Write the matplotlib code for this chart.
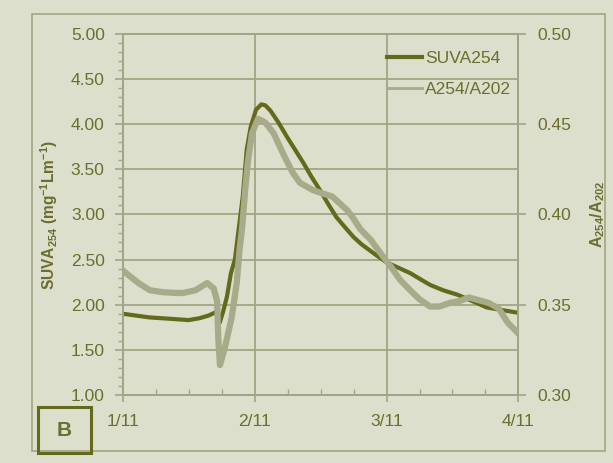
import matplotlib
matplotlib.use("Agg")
import matplotlib.pyplot as plt
from matplotlib.patches import Rectangle
from matplotlib.ticker import MultipleLocator

plt.rcParams['font.family'] = ['Liberation Sans', 'DejaVu Sans']
plt.rcParams['mathtext.default'] = 'regular'

# ---- data (days since 1/11) ----
suva_t = [0.00, 0.10, 0.20, 0.30, 0.40, 0.50, 0.58, 0.65, 0.71, 0.735, 0.76, 0.79,
          0.82, 0.85, 0.88, 0.91, 0.94, 0.97, 1.01, 1.05, 1.08, 1.12, 1.18, 1.245,
          1.31, 1.37, 1.43, 1.495, 1.56, 1.62, 1.69, 1.75, 1.81, 1.875, 1.94, 2.00,
          2.09, 2.18, 2.26, 2.33, 2.43, 2.54, 2.62, 2.76, 2.88, 3.00]
suva_v = [1.90, 1.88, 1.86, 1.85, 1.84, 1.83, 1.85, 1.88, 1.92, 1.80, 1.92, 2.09,
          2.35, 2.50, 2.85, 3.20, 3.72, 3.97, 4.16, 4.22, 4.21, 4.15, 4.02, 3.86,
          3.71, 3.57, 3.42, 3.27, 3.11, 2.97, 2.85, 2.75, 2.67, 2.60, 2.53, 2.47,
          2.41, 2.35, 2.28, 2.22, 2.16, 2.11, 2.06, 1.97, 1.94, 1.91]

ratio_t = [0.00, 0.05, 0.12, 0.206, 0.30, 0.40, 0.457, 0.55, 0.64, 0.69, 0.715, 0.725,
           0.737, 0.775, 0.826, 0.864, 0.885, 0.904, 0.93, 0.95, 0.98, 1.025, 1.08,
           1.144, 1.22, 1.29, 1.344, 1.44, 1.50, 1.587, 1.70, 1.738, 1.80, 1.88, 1.95,
           2.034, 2.10, 2.18, 2.25, 2.33, 2.40, 2.48, 2.55, 2.626, 2.70, 2.775, 2.85,
           2.92, 2.96, 3.00]
ratio_v = [0.369, 0.366, 0.362, 0.358, 0.357, 0.3565, 0.3565, 0.358, 0.362, 0.359, 0.352, 0.330,
           0.3166, 0.3266, 0.343, 0.362, 0.380, 0.392, 0.415, 0.430, 0.445, 0.453, 0.451,
           0.445, 0.433, 0.423, 0.4175, 0.4136, 0.412, 0.410, 0.4025, 0.399, 0.392, 0.386, 0.379,
           0.371, 0.364, 0.358, 0.353, 0.349, 0.349, 0.351, 0.352, 0.354, 0.3525, 0.351, 0.348,
           0.340, 0.337, 0.334]

x_ticks = [0, 1, 2, 3]
x_labels = ['1/11', '2/11', '3/11', '4/11']
left_ticks = [1.0, 1.5, 2.0, 2.5, 3.0, 3.5, 4.0, 4.5, 5.0]
right_ticks = [0.30, 0.35, 0.40, 0.45, 0.50]

# ---- style ----
BG = '#dcdfcb'
TXT = '#6b6e2e'
GRID = '#a2a585'
DARK = '#646a1c'
LIGHT = '#a7ab8a'

fig = plt.figure(figsize=(6.13, 4.63), dpi=100, facecolor=BG)
ax = fig.add_axes([0.2003, 0.1469, 0.6454, 0.7797])
ax.set_facecolor(BG)
ax2 = ax.twinx()

l1, = ax.plot(suva_t, suva_v, color=DARK, lw=3.0, solid_joinstyle='round', zorder=3)
l2, = ax2.plot(ratio_t, ratio_v, color=LIGHT, lw=4.5, solid_joinstyle='round', zorder=3)

ax.set_xlim(0, 3)
ax.set_ylim(1, 5)
ax2.set_ylim(0.30, 0.50)

ax.set_xticks(x_ticks)
ax.set_xticklabels(x_labels)
ax.xaxis.set_minor_locator(MultipleLocator(0.25))
ax.set_yticks(left_ticks)
ax.set_yticklabels([f'{v:.2f}' for v in left_ticks])
ax.yaxis.set_minor_locator(MultipleLocator(0.1))
ax2.set_yticks(right_ticks)
ax2.set_yticklabels([f'{v:.2f}' for v in right_ticks])

ax.grid(True, which='major', color=GRID, lw=1.3, zorder=1)
ax.set_axisbelow(True)

for a in (ax, ax2):
    for s in a.spines.values():
        s.set_color(GRID)
        s.set_linewidth(1.4)

ax.tick_params(axis='x', which='major', direction='out', length=5, width=1.2,
               color=GRID, labelcolor=TXT, labelsize=12.5, pad=9)
ax.tick_params(axis='x', which='minor', direction='in', length=4, width=1.0, color=GRID)
ax.tick_params(axis='y', which='major', direction='out', length=6, width=1.2,
               color=GRID, labelcolor=TXT, labelsize=12.5, pad=7)
ax.tick_params(axis='y', which='minor', direction='out', length=3.5, width=1.0, color=GRID)
ax2.tick_params(axis='y', which='major', direction='out', length=6, width=1.2,
                color=GRID, labelcolor=TXT, labelsize=12.5, pad=8)

ax.set_ylabel('SUVA$_{254}$ (mg$^{-1}$Lm$^{-1}$)', color=TXT, fontsize=11.2,
              fontweight='bold', labelpad=8)
ax2.set_ylabel('A$_{254}$/A$_{202}$', color=TXT, fontsize=11.5, fontweight='bold',
               labelpad=12)

leg = ax2.legend([l1, l2], ['SUVA254', 'A254/A202'], loc='upper left',
                 bbox_to_anchor=(0.668, 0.952), frameon=False, fontsize=12.5,
                 handlelength=2.0, handletextpad=0.2, labelspacing=0.9,
                 borderpad=0, borderaxespad=0)
for t in leg.get_texts():
    t.set_color(TXT)
leg.get_lines()[0].set_linewidth(3)
leg.get_lines()[1].set_linewidth(2)

# outer frame and panel label
fig.patches.append(Rectangle((0.052, 0.026), 0.935, 0.944, transform=fig.transFigure,
                             fill=False, edgecolor=GRID, lw=1.2))
fig.patches.append(Rectangle((0.062, 0.0216), 0.0865, 0.099, transform=fig.transFigure,
                             fill=False, edgecolor=DARK, lw=2.2))
fig.text(0.062 + 0.0865 / 2, 0.0216 + 0.099 / 2, 'B', ha='center', va='center',
         fontsize=15, fontweight='bold', color=TXT)

fig.savefig('out.png', dpi=100, facecolor=BG)
